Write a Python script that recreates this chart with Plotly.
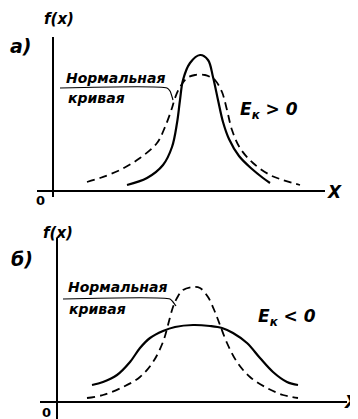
import plotly.graph_objects as go

# the page body has an 8px margin, so the figure is drawn 8px smaller and
# every pixel position below is measured on the 358x419 window
OFF = 8
W, H = 358 - OFF, 419 - OFF

# --- panel a) (E_k > 0), units (origin at the axes crossing)
a_solid_x = [7.4, 9.4, 11.0, 11.9, 12.4, 12.7, 13.0, 13.7, 14.7, 15.5, 16.0, 16.5, 17.0, 17.6, 18.6, 19.9, 21.0, 21.7]
a_solid_y = [0.6, 1.3, 2.6, 4.4, 6.8, 9.1, 11.1, 12.8, 13.6, 13.1, 11.4, 9.1, 6.9, 5.2, 3.5, 2.2, 1.3, 0.8]
a_norm_x = [3.4, 4.7, 6.7, 8.7, 10.4, 11.2, 11.9, 12.2, 12.7, 13.4, 14.2, 15.2, 15.9, 16.2, 16.9, 17.4, 17.9, 18.7, 20.0, 21.7, 23.0, 24.7]
a_norm_y = [0.9, 1.3, 2.1, 3.3, 4.8, 6.4, 8.3, 9.3, 10.4, 11.3, 11.6, 11.6, 11.3, 11.1, 9.9, 8.1, 6.1, 4.3, 2.8, 1.6, 1.1, 0.6]
a_lead_x = [0.7, 11.4, 11.7, 12.0]
a_lead_y = [10.3, 10.3, 10.0, 9.1]

# --- panel б) (E_k < 0)
b_solid_x = [3.5, 4.6, 6.0, 7.3, 8.3, 9.3, 10.6, 11.8, 13.6, 15.3, 16.5, 17.6, 19.0, 20.3, 21.6, 23.0, 24.1]
b_solid_y = [1.7, 2.0, 2.7, 4.0, 5.4, 6.4, 7.1, 7.5, 7.7, 7.6, 7.4, 6.9, 5.9, 4.4, 3.0, 2.0, 1.7]
b_norm_x = [3.0, 4.6, 6.6, 8.3, 9.6, 10.6, 11.1, 11.6, 12.0, 12.6, 13.6, 14.3, 15.1, 15.8, 16.3, 17.0, 18.0, 19.3, 21.0, 22.6, 24.1]
b_norm_y = [0.4, 0.7, 1.5, 2.5, 4.0, 6.0, 7.7, 9.5, 10.4, 11.2, 11.5, 11.4, 10.5, 9.0, 7.7, 5.9, 4.0, 2.5, 1.4, 0.7, 0.4]
b_lead_x = [0.6, 11.3, 11.6, 11.9]
b_lead_y = [10.3, 10.3, 10.0, 9.6]


def pp(x, y):
    # window pixel -> paper coords
    return (x - OFF) / W, 1 - (y - OFF) / H


fig = go.Figure()

solid = dict(color="black", width=2.2, shape="spline", smoothing=1)
dashed = dict(color="black", width=1.8, shape="spline", smoothing=1, dash="8px,5px")
lead = dict(color="black", width=1.2, shape="spline", smoothing=0.6)

fig.add_trace(go.Scatter(x=a_norm_x, y=a_norm_y, mode="lines", line=dashed, xaxis="x", yaxis="y"))
fig.add_trace(go.Scatter(x=a_solid_x, y=a_solid_y, mode="lines", line=solid, xaxis="x", yaxis="y"))
fig.add_trace(go.Scatter(x=a_lead_x, y=a_lead_y, mode="lines", line=lead, xaxis="x", yaxis="y"))

fig.add_trace(go.Scatter(x=b_norm_x, y=b_norm_y, mode="lines", line=dashed, xaxis="x2", yaxis="y2"))
fig.add_trace(go.Scatter(x=b_solid_x, y=b_solid_y, mode="lines", line=solid, xaxis="x2", yaxis="y2"))
fig.add_trace(go.Scatter(x=b_lead_x, y=b_lead_y, mode="lines", line=lead, xaxis="x2", yaxis="y2"))

ax = dict(showgrid=False, showticklabels=False, ticks="", showline=False,
          zeroline=True, zerolinecolor="black", zerolinewidth=1.6, fixedrange=True)

xa0, ya1 = pp(37, 37)
xa1, ya0 = pp(325, 197)
xb0, yb1 = pp(40, 238)
xb1, _ = pp(347, 419)

fig.update_layout(
    width=W, height=H,
    margin=dict(l=0, r=0, t=0, b=0),
    paper_bgcolor="white", plot_bgcolor="white",
    showlegend=False,
    xaxis=dict(ax, domain=[xa0, xa1], range=[-1.6, 27.2]),
    yaxis=dict(ax, domain=[ya0, ya1], range=[-0.6, 15.4]),
    xaxis2=dict(ax, domain=[xb0, xb1], range=[-1.7, 29.0], anchor="y2"),
    yaxis2=dict(ax, domain=[0, yb1], range=[-1.7, 16.4], anchor="x2"),
)

fam = "DejaVu Sans"
labels = [
    ("f(x)", 59, 19, 15, "italic"),
    ("a)", 21, 46, 19, "italic"),
    ("0", 40, 200, 13, "normal"),
    ("X", 334, 192, 17, "italic"),
    ("Нормальная", 115, 78, 14, "italic"),
    ("кривая", 96, 98, 14, "italic"),
    ("E<sub>к</sub> > 0", 269, 110, 17, "italic"),
    ("f(x)", 58, 233, 15, "italic"),
    ("б)", 22, 259, 19, "italic"),
    ("0", 46, 412, 13, "normal"),
    ("X", 351, 402, 17, "italic"),
    ("Нормальная", 117, 287, 14, "italic"),
    ("кривая", 97, 309, 14, "italic"),
    ("E<sub>к</sub> < 0", 287, 317, 17, "italic"),
]
for text, px, py, size, style in labels:
    x, y = pp(px, py)
    fig.add_annotation(x=x, y=y, xref="paper", yref="paper", text=text, showarrow=False,
                       xanchor="center", yanchor="middle",
                       font=dict(family=fam, size=size, color="black", style=style, weight="bold"))

fig.write_html("out.html")
